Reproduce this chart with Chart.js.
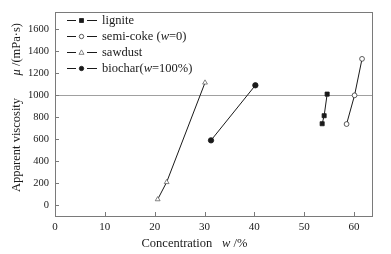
<!DOCTYPE html>
<html><head><meta charset="utf-8">
<script src="https://cdn.jsdelivr.net/npm/chart.js@4"></script>
<style>html,body{margin:0;padding:0;background:#fff}#wrap{width:391px;height:254px}</style>
</head><body><div id="wrap"><canvas id="c" width="391" height="254"></canvas></div>
<script>
// ---- data ----
const seriesNames = ['lignite', 'semi-coke (w=0)', 'sawdust', 'biochar(w=100%)'];
const ligniteX = [53.6, 54.0, 54.6];
const ligniteY = [738, 811, 1007];
const semicokeX = [58.5, 60.1, 61.6];
const semicokeY = [735, 996, 1327];
const sawdustX = [20.6, 22.4, 30.1];
const sawdustY = [51, 207, 1111];
const biocharX = [31.3, 40.2];
const biocharY = [587, 1087];
const xTicks = [0, 10, 20, 30, 40, 50, 60];
const yTicks = [0, 200, 400, 600, 800, 1000, 1200, 1400, 1600];
const referenceLineValue = 1000;

const pts = (xs, ys) => xs.map((x, i) => ({x: x, y: ys[i]}));
const SERIF = '"Liberation Serif", "Times New Roman", serif';
const INK = '#1a1a1a';
const AXIS = '#7a7a7a';

const datasets = [
  {label: seriesNames[0], data: pts(ligniteX, ligniteY), pointStyle: 'rect', pointRadius: 2.9, fill: INK, edge: INK},
  {label: seriesNames[1], data: pts(semicokeX, semicokeY), pointStyle: 'circle', pointRadius: 2.4, fill: '#fff', edge: '#333'},
  {label: seriesNames[2], data: pts(sawdustX, sawdustY), pointStyle: 'triangle', pointRadius: 2.8, fill: '#fff', edge: '#666'},
  {label: seriesNames[3], data: pts(biocharX, biocharY), pointStyle: 'circle', pointRadius: 2.7, fill: INK, edge: INK}
].map(d => Object.assign(d, {showLine: true, borderWidth: 1, borderColor: INK, backgroundColor: d.fill,
  pointBorderWidth: 0.8, pointBorderColor: d.edge, pointBackgroundColor: d.fill}));

function pieceWidth(ctx, pieces, size) {
  let w = 0;
  for (const p of pieces) {
    ctx.font = (p.i ? 'italic ' : '') + size + 'px ' + SERIF;
    w += ctx.measureText(p.t).width + (p.gap || 0);
  }
  return w;
}
function drawPieces(ctx, pieces, x, y, size) {
  let cx = x;
  for (const p of pieces) {
    ctx.font = (p.i ? 'italic ' : '') + size + 'px ' + SERIF;
    ctx.fillText(p.t, cx, y);
    cx += ctx.measureText(p.t).width + (p.gap || 0);
  }
  return cx;
}
function splitItalicW(label) {
  const m = label.match(/^(.*\()w(=.*)$/);
  if (!m) return [{t: label}];
  return [{t: m[1]}, {t: 'w', i: true}, {t: m[2]}];
}

const decor = {
  id: 'decor',
  beforeDatasetsDraw(chart) {
    const {ctx, chartArea: a, scales: {x, y}} = chart;
    ctx.save();
    const ry = Math.round(y.getPixelForValue(referenceLineValue)) + 0.5;
    ctx.strokeStyle = '#a0a0a0'; ctx.lineWidth = 1;
    ctx.beginPath(); ctx.moveTo(a.left, ry); ctx.lineTo(a.right, ry); ctx.stroke();
    ctx.strokeStyle = AXIS;
    ctx.strokeRect(Math.round(a.left) + 0.5, Math.round(a.top) + 0.5, Math.round(a.right - a.left), Math.round(a.bottom - a.top));
    ctx.beginPath();
    for (const v of xTicks) {
      const px = Math.round(x.getPixelForValue(v)) + 0.5;
      ctx.moveTo(px, a.bottom); ctx.lineTo(px, a.bottom - 4);
    }
    for (const v of yTicks) {
      const py = Math.round(y.getPixelForValue(v)) + 0.5;
      ctx.moveTo(a.left, py); ctx.lineTo(a.left + 4, py);
    }
    ctx.stroke();
    ctx.restore();
  },
  afterDraw(chart) {
    const {ctx, chartArea: a} = chart;
    ctx.save();
    ctx.fillStyle = INK; ctx.textBaseline = 'middle';
    // legend
    const lx = a.left + 12, ly0 = a.top + 8, dy = 16;
    chart.data.datasets.forEach((ds, i) => {
      const yy = Math.round(ly0 + i * dy) + 0.5;
      ctx.strokeStyle = INK; ctx.lineWidth = 1;
      ctx.beginPath();
      ctx.moveTo(lx, yy); ctx.lineTo(lx + 9, yy);
      ctx.moveTo(lx + 20, yy); ctx.lineTo(lx + 30, yy);
      ctx.stroke();
      ctx.fillStyle = ds.pointBackgroundColor; ctx.strokeStyle = ds.pointBorderColor; ctx.lineWidth = 0.8;
      ctx.beginPath();
      if (ds.pointStyle === 'rect') { ctx.rect(lx + 12.5, yy - 2, 4, 4); }
      else if (ds.pointStyle === 'circle') { ctx.arc(lx + 14.5, yy, 2.2, 0, Math.PI * 2); }
      else { ctx.moveTo(lx + 14.5, yy - 2.6); ctx.lineTo(lx + 17, yy + 1.8); ctx.lineTo(lx + 12, yy + 1.8); ctx.closePath(); }
      ctx.fill(); ctx.stroke();
      ctx.fillStyle = INK; ctx.textAlign = 'left';
      drawPieces(ctx, splitItalicW(ds.label), lx + 35, yy, 12.5);
    });
    // x title
    ctx.textAlign = 'left';
    drawPieces(ctx, [{t: 'Concentration'}], 141.5, 244, 12.5);
    drawPieces(ctx, [{t: 'w', i: true}, {t: ' /%'}], 222, 244, 12.5);
    // y title (rotated): first part from bottom, second part ending near the top
    ctx.translate(17, 0); ctx.rotate(-Math.PI / 2);
    drawPieces(ctx, [{t: 'Apparent viscosity'}], -192, 0, 12.5);
    const second = [{t: 'μ', i: true}, {t: ' /(mPa·s)'}];
    const w2 = pieceWidth(ctx, second, 12.5);
    drawPieces(ctx, second, -23 - w2, 0, 12.5);
    ctx.restore();
  }
};

new Chart(document.getElementById('c'), {
  type: 'scatter',
  data: {datasets: datasets},
  plugins: [decor],
  options: {
    responsive: false, animation: false, devicePixelRatio: 1,
    layout: {padding: {top: 8, right: 19, left: 0, bottom: 0}},
    plugins: {legend: {display: false}, tooltip: {enabled: false}},
    scales: {
      x: {
        type: 'linear', min: 0, max: 63.6,
        afterBuildTicks: s => { s.ticks = xTicks.map(v => ({value: v})); },
        afterFit: s => { s.height = 38; },
        grid: {display: false, drawTicks: false}, border: {display: false},
        ticks: {color: INK, padding: 5, maxRotation: 0, font: {family: SERIF, size: 11}, callback: v => String(v)}
      },
      y: {
        type: 'linear', min: -100, max: 1750,
        afterBuildTicks: s => { s.ticks = yTicks.map(v => ({value: v})); },
        afterFit: s => { s.width = 55; },
        grid: {display: false, drawTicks: false}, border: {display: false},
        ticks: {color: INK, padding: 6, font: {family: SERIF, size: 10.5}, callback: v => String(v)}
      }
    }
  }
});
</script></body></html>
